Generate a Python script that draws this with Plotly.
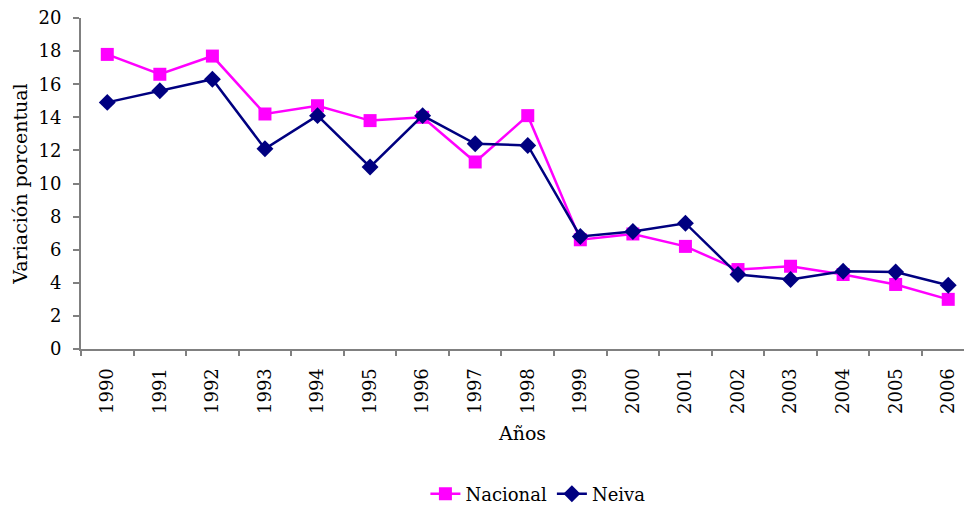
import plotly.graph_objects as go

years = [str(y) for y in range(1990, 2007)]
nacional = [17.8, 16.6, 17.7, 14.2, 14.7, 13.8, 14.0, 11.3, 14.1, 6.6, 6.95, 6.2, 4.8, 5.0, 4.5, 3.9, 3.0]
neiva = [14.9, 15.6, 16.3, 12.1, 14.1, 11.0, 14.1, 12.4, 12.3, 6.8, 7.1, 7.6, 4.5, 4.2, 4.7, 4.65, 3.85]

FONT = "DejaVu Serif"

fig = go.Figure()
fig.add_trace(go.Scatter(
    x=years, y=nacional, name="Nacional", mode="lines+markers",
    line=dict(color="#FF00FF", width=2.5),
    marker=dict(symbol="square", size=13, color="#FF00FF"),
))
fig.add_trace(go.Scatter(
    x=years, y=neiva, name="Neiva", mode="lines+markers",
    line=dict(color="#000080", width=2.5),
    marker=dict(symbol="diamond", size=13, color="#000080"),
))

fig.update_layout(
    width=964, height=506,
    margin=dict(l=81, r=0, t=18, b=157),
    paper_bgcolor="white", plot_bgcolor="white",
    font=dict(family=FONT, size=18, color="black"),
    showlegend=True,
    legend=dict(orientation="h", xref="container", yref="container",
                x=0.558, xanchor="center", y=0.0237, yanchor="middle",
                font=dict(family=FONT, size=18), tracegroupgap=0),
    xaxis=dict(
        type="category", range=[-0.5, 16.30],
        tickangle=-90, tickson="boundaries",
        ticks="outside", ticklen=5, tickcolor="#808080", tickwidth=1.5,
        showline=True, linecolor="#808080", linewidth=2,
        showgrid=False, zeroline=False,
        tickfont=dict(family=FONT, size=18), ticklabelstandoff=10,
        title=dict(text="Años", font=dict(family=FONT, size=19), standoff=14),
        automargin=False,
    ),
    yaxis=dict(
        range=[0, 20], dtick=2, tick0=0,
        ticks="outside", ticklen=6, tickcolor="#808080", tickwidth=1.5,
        showline=True, linecolor="#808080", linewidth=2,
        showgrid=False, zeroline=False,
        tickfont=dict(family=FONT, size=18), ticklabelstandoff=8,
        ticklabeloverflow="allow",
        title=dict(text="Variación porcentual", font=dict(family=FONT, size=19), standoff=6),
        automargin=False,
    ),
)

fig.write_html(
    "out.html",
    config={"displayModeBar": False},
    post_script="document.body.style.margin='0';document.body.style.overflow='hidden';",
)
